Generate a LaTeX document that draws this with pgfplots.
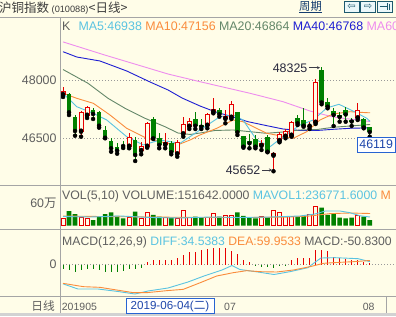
\documentclass[border=0pt]{standalone}
\usepackage{pgfplots}
\pgfplotsset{compat=1.18}
\usepackage{pgfplotstable}
\usetikzlibrary{arrows.meta}
\usepackage{fontspec}
\setmainfont{Liberation Sans}
\newfontfamily\cjk{Noto Sans CJK SC}
\newfontfamily\dvs{DejaVu Sans}
\definecolor{bg}{RGB}{255,253,232}
\definecolor{kred}{RGB}{230,0,0}
\definecolor{kgreen}{RGB}{0,128,0}
\definecolor{cma5}{RGB}{90,195,225}
\definecolor{cma10}{RGB}{250,140,60}
\definecolor{cma20}{RGB}{100,135,105}
\definecolor{cma40}{RGB}{30,30,210}
\definecolor{cma60}{RGB}{238,140,238}
\definecolor{framec}{RGB}{165,165,165}
\definecolor{txt}{RGB}{95,95,95}
\definecolor{dblue}{RGB}{30,70,170}
\definecolor{iconc}{RGB}{30,90,110}
\definecolor{iconfill}{RGB}{235,248,250}
\definecolor{ttl}{RGB}{60,60,60}
\definecolor{period}{RGB}{20,60,110}
\definecolor{annot}{RGB}{40,40,60}
\definecolor{arrowc}{RGB}{60,60,70}
\definecolor{boxblue}{RGB}{40,100,210}
\newcommand{\lfont}{\fontsize{12.4}{12.4}\selectfont}

\pgfplotstableread{
i o h l c v
1 47614 47820 47563 47717 20.2
4 46670 47202 46541 47169 21.8
5 47081 47339 47022 47298 20.2
12 46284 46629 46243 46541 21.8
14 46173 46412 46088 46310 20.2
15 46284 46927 46258 46886 36.5
18 46328 46629 46243 46412 21.8
20 46088 46456 46026 46397 20.2
21 46603 47056 46541 46860 40.9
22 46798 47015 46739 46945 21.8
25 46824 47143 46757 47117 21.8
26 47169 47545 47143 47246 33.8
28 46997 47228 46886 47074 26.5
29 47030 47460 46997 47375 26.5
34 46302 46456 46199 46371 24.5
36 46052 46147 45652 46114 42.8
37 46430 46654 46397 46603 36.5
38 46541 46739 46500 46688 24.5
39 46567 46945 46541 46912 24.5
42 46798 46927 46739 46824 29.2
43 46901 48018 46868 47956 53.7
50 47015 47400 46971 47228 26.5
}\upK

\pgfplotstableread{
i o h l c v
2 47632 47673 47099 47169 40.1
3 47056 47099 46567 46688 31.9
6 47228 47287 46997 47125 15.5
7 47184 47202 46773 46824 24.5
8 46714 46816 46500 46515 31.9
9 46430 46500 46155 46243 36.5
10 46284 46387 46104 46181 26.5
11 46340 46430 46250 46302 20.2
13 46456 46541 45916 46070 38.2
16 46997 47056 46482 46500 29.2
17 46500 46629 46243 46328 24.5
19 46371 46430 46088 46140 21.8
23 46997 47169 46739 46824 24.5
24 46842 46997 46739 46798 21.8
27 47228 47287 47056 47117 24.5
30 47169 47184 46585 46654 36.5
31 46559 46559 46258 46284 26.5
32 46430 46603 46243 46371 21.8
33 46482 46585 46243 46284 20.2
35 46541 46585 46140 46155 22.9
40 47015 47099 46842 46886 24.5
41 46971 47272 46798 46824 26.5
44 48257 48325 47375 47421 49.1
45 47442 47529 47272 47313 29.2
46 47210 47272 46816 47099 33.8
47 47099 47169 46927 47048 21.8
48 47228 47298 46927 47112 20.2
49 46971 47015 46816 46932 21.8
51 46997 47030 46757 46778 24.5
52 46778 46783 46541 46662 15.2
}\downK

\begin{document}
\begin{tikzpicture}[x=1pt,y=1pt]
\useasboundingbox (0,0) rectangle (396,-316);
\fill[bg] (0,0) rectangle (396,-316);

% ---------------- price panel
\begin{axis}[
  at={(60pt,-185pt)}, anchor=south west,
  scale only axis, width=336pt, height=168pt,
  xmin=0.5, xmax=56.37, ymin=45298, ymax=49621,
  axis line style={draw=none},
  xtick=\empty, ytick={46500,48000},
  scaled y ticks=false,
  major tick length=0pt,
  ymajorgrids, grid style={dash pattern=on 1pt off 2pt, draw=gray!80, line width=0.6pt},
  yticklabel style={font=\lfont, text=txt, anchor=east},
  /pgf/number format/.cd, 1000 sep={}, assume math mode=true,
]
% MA lines
\addplot[cma60, line width=0.9pt] coordinates {(1,48980) (7.93,48643) (18.46,48154) (23.78,47956) (32.10,47658) (37.58,47442) (42.07,47202) (45.90,47048) (49.89,46971) (52.05,46932)};
\addplot[cma40, line width=0.9pt] coordinates {(1,48728) (3.28,48592) (7.15,48489) (11.59,48232) (15.47,47949) (18.46,47743) (20.79,47537) (23.78,47331) (26.27,47184) (29.10,47056) (31.76,46927) (34.75,46829) (37.58,46739) (40.41,46701) (43.24,46701) (45.90,46731) (48.72,46757) (52.05,46770)};
\addplot[cma20, line width=0.9pt] coordinates {(1,48270) (5.16,47915) (8.48,47529) (11.31,47272) (14.63,47015) (17.96,46798) (20.12,46636) (22.12,46598) (23.78,46636) (26.27,46701) (29.27,46714) (32.10,46670) (34.75,46629) (37.58,46662) (40.41,46714) (43.24,46726) (45.90,46783) (48.72,46816) (52.05,46855)};
\addplot[cma10, line width=0.9pt] coordinates {(1,47658) (3.28,47529) (6.04,47400) (8.82,47099) (11.59,46757) (14.92,46500) (18.24,46371) (20.45,46353) (22.12,46456) (23.78,46585) (26.56,46757) (29.27,46971) (30.93,46927) (34.87,46629) (39.29,46500) (41.52,46670) (43.73,46971) (45.90,47125) (48.72,47184) (51.50,47159) (52.05,47156)};
\addplot[cma5, line width=0.9pt] coordinates {(1,47658) (3.28,47313) (6.04,47143) (8.27,46971) (11.59,46541) (14.35,46328) (17.13,46456) (20.45,46371) (23.78,46714) (27.11,47056) (29.27,47099) (30.93,46971) (33.21,46456) (35.42,46284) (37.63,46541) (40.41,46842) (42.62,46971) (44.85,47280) (46.89,47375) (49.55,47177) (51.50,47015) (52.05,46937)};
% green candles
\addplot[only marks, mark=none, forget plot, error bars/.cd, y dir=plus, y explicit, error mark=none,
  error bar style={draw=kgreen, line width=1pt}]
  table[x=i, y=l, y error expr={\thisrow{h}-\thisrow{l}}] {\downK};
\addplot[only marks, mark=none, forget plot, error bars/.cd, y dir=plus, y explicit, error mark=none,
  error bar style={draw=kgreen, line width=4.6pt}]
  table[x=i, y=c, y error expr={\thisrow{o}-\thisrow{c}}] {\downK};
% red candles
\addplot[only marks, mark=none, forget plot, error bars/.cd, y dir=plus, y explicit, error mark=none,
  error bar style={draw=kred, line width=1pt}]
  table[x=i, y=l, y error expr={\thisrow{h}-\thisrow{l}}] {\upK};
\addplot[only marks, mark=none, forget plot, error bars/.cd, y dir=plus, y explicit, error mark=none,
  error bar style={draw=kred, line width=5pt}]
  table[x=i, y=o, y error expr={max(\thisrow{c}-\thisrow{o},26)}] {\upK};
\addplot[only marks, mark=none, forget plot, error bars/.cd, y dir=plus, y explicit, error mark=none,
  error bar style={draw=bg, line width=3pt}]
  table[x=i, y expr={\thisrow{o}+26}, y error expr={max(\thisrow{c}-\thisrow{o}-52,0)}] {\upK};
\end{axis}

% ---------------- volume panel
\begin{axis}[
  at={(60pt,-229.5pt)}, anchor=south west,
  scale only axis, width=336pt, height=44.5pt,
  xmin=0.5, xmax=56.37, ymin=-10.36, ymax=111,
  axis line style={draw=none},
  xtick=\empty, ytick={60}, yticklabels={{60\cjk 万}},
  major tick length=0pt,
  yticklabel style={font=\lfont, text=txt, anchor=east},
]
\addplot[ybar, bar width=4.6pt, bar shift=0pt, fill=kgreen, draw=none] table[x=i, y=v] {\downK};
\addplot[ybar, bar width=4pt, bar shift=0pt, fill=bg, draw=kred, line width=1pt] table[x=i, y=v] {\upK};
\addplot[cma10, line width=0.9pt] coordinates {(1,26.5) (7.15,25.1) (15.47,23.7) (23.78,22.4) (32.10,22.4) (38.74,23.7) (42.07,26.5) (45.4,33) (48.7,34.6) (52.05,33.3)};
\addplot[cma5, line width=0.9pt] coordinates {(1,25.1) (5.49,23.7) (10.48,26.5) (15.47,22.4) (20.46,21.0) (25.44,23.7) (30.43,22.4) (35.42,23.7) (40.41,26.5) (42.9,31.9) (44.6,40) (47.1,40) (48.7,35.5) (50.4,27) (52.05,23.7)};
\end{axis}

% ---------------- MACD panel
\begin{axis}[
  at={(60pt,-296.7pt)}, anchor=south west,
  scale only axis, width=336pt, height=67.2pt,
  xmin=0.5, xmax=56.37, ymin=-386.4, ymax=420,
  axis line style={draw=none},
  xtick=\empty, ytick={0},
  scaled y ticks=false,
  major tick length=0pt,
  ymajorgrids, grid style={dash pattern=on 1pt off 2pt, draw=gray!80, line width=0.6pt},
  yticklabel style={font=\lfont, text=txt, anchor=east},
  /pgf/number format/.cd, assume math mode=true,
]
\addplot[ycomb, kgreen, line width=1pt] coordinates {(1,-54) (2,-66) (3,-94) (4,-66) (5,-54) (6,-54) (7,-66) (8,-86) (9,-94) (10,-94) (11,-78) (12,-54) (13,-54) (14,-38) (33,-14) (34,-26) (35,-26) (36,-46) (37,-22) (38,-12)};
\addplot[ycomb, kred, line width=1pt] coordinates {(15,34) (16,58) (17,58) (18,58) (19,58) (20,74) (21,114) (22,154) (23,154) (24,174) (25,186) (26,202) (27,194) (28,194) (29,162) (30,122) (31,54) (32,34) (39,58) (40,82) (41,82) (42,82) (43,174) (44,174) (45,162) (46,94) (47,82) (48,66) (49,54) (50,54) (51,34) (52,18)};
\addplot[cma5, line width=0.9pt] coordinates {(1,-232) (3.49,-294) (6.82,-294) (10.15,-324) (12.97,-354) (15.13,-318) (18.46,-282) (21.78,-210) (24.44,-138) (27.44,-66) (29.10,-12) (30.43,-60) (33.42,-90) (36.08,-120) (38.74,-86) (41.73,-38) (42.73,18) (43.89,78) (46.22,82) (50.04,70) (52.04,34)};
\addplot[cma10, line width=0.9pt] coordinates {(1,-226) (4.38,-266) (7.15,-274) (9.93,-306) (12.69,-338) (14.92,-338) (18.24,-314) (21.00,-298) (23.83,-218) (26.56,-138) (29.32,-98) (31.55,-74) (33.76,-86) (36.53,-90) (39.29,-66) (42.07,-26) (44.28,14) (45.95,22) (49.27,34) (52.04,48)};
\end{axis}

% ---------------- frame lines
\draw[framec, line width=0.8pt] (0,-17.3) -- (396,-17.3);
\draw[framec, line width=0.8pt] (0,-185) -- (396,-185);
\draw[framec, line width=0.8pt] (0,-229.5) -- (396,-229.5);
\draw[framec, line width=0.8pt] (0,-296.7) -- (396,-296.7);
\draw[framec, line width=0.8pt] (60,-17.3) -- (60,-313);
\draw[framec, line width=0.8pt] (386.7,-296.7) -- (386.7,-313);
\fill[gray!35] (0,-313.3) rectangle (396,-316);

% ---------------- title bar
\node[anchor=base west, inner sep=0, text=ttl] at (-1,-12.5)
  {\cjk\fontsize{12.5}{12.5}\selectfont 沪铜指数};
\node[anchor=base west, inner sep=0, text=ttl] at (51.5,-12.5)
  {\fontsize{9.2}{9.2}\selectfont (010088)};
\node[anchor=base west, inner sep=0, text=ttl] at (88.5,-12.5)
  {\cjk\fontsize{12.5}{12.5}\selectfont <日线>};
\node[anchor=base west, inner sep=0, text=period] at (299,-10.5)
  {\cjk\fontsize{11.3}{11.3}\selectfont 周期};
\draw[period, line width=0.7pt] (299,-12) -- (322,-12);
\foreach \a/\b in {344/359,360.5/375.5,377/392.5}{
  \draw[iconc, fill=iconfill, line width=0.8pt] (\a,-1) rectangle (\b,-12);
}
\node[inner sep=0, text=iconc] at (351.5,-6.5) {\dvs\fontsize{10}{10}\selectfont ⇦};
\node[inner sep=0, text=iconc] at (368,-6.5) {\dvs\fontsize{10}{10}\selectfont ⇨};
\draw[iconc, line width=0.9pt] (379.5,-6.5) -- (387,-6.5) (387,-3) -- (387,-10) (389.5,-3.5) -- (389.5,-9.5);

% ---------------- legends
\node[anchor=base west, inner sep=0, text=txt] at (62,-30) {\lfont K};
\node[anchor=base west, inner sep=0] at (78.3,-30) {\lfont \textcolor{cma5}{MA5:46938} \textcolor{cma10}{MA10:47156} \textcolor{cma20}{MA20:46864} \textcolor{cma40}{MA40:46768} \textcolor{cma60}{MA60}};

\node[anchor=base west, inner sep=0] at (62,-199) {\fontsize{12.3}{12.3}\selectfont \textcolor{txt}{VOL(5,10) VOLUME:151642.0000} \textcolor{cma5}{MAVOL1:236771.6000} \textcolor{cma10}{M}};

\node[anchor=base west, inner sep=0] at (62,-245) {\fontsize{12.2}{12.2}\selectfont \textcolor{txt}{MACD(12,26,9)} \textcolor{cma5}{DIFF:34.5383} \textcolor{cma10}{DEA:59.9533} \textcolor{txt}{MACD:-50.8300}};

% ---------------- annotations
\node[anchor=base east, inner sep=0, text=annot] at (307.5,-72.5) {\lfont 48325};
\draw[arrowc, line width=0.6pt, -{Stealth[length=3pt,width=3pt]}] (309,-67.7) -- (320,-67.7);
\node[anchor=base east, inner sep=0, text=annot] at (260.5,-174.5) {\lfont 45652};
\draw[arrowc, line width=0.6pt, -{Stealth[length=3pt,width=3pt]}] (262,-170) -- (272,-170);
\draw[boxblue, fill=white, line width=0.8pt] (357,-137) rectangle (395.5,-152);
\node[inner sep=0, text=dblue] at (376.2,-144.5) {\lfont 46119};

% ---------------- bottom date row
\node[anchor=base east, inner sep=0, text=txt] at (55,-310.5) {\cjk\fontsize{11.7}{11.7}\selectfont 日线};
\node[anchor=base west, inner sep=0, text=txt] at (61.7,-310) {\fontsize{10.5}{10.5}\selectfont 201905};
\node[anchor=base west, inner sep=0, text=txt] at (224,-310) {\fontsize{10.5}{10.5}\selectfont 07};
\node[anchor=base west, inner sep=0, text=txt] at (362.7,-310) {\fontsize{10.5}{10.5}\selectfont 08};
\draw[boxblue, fill=white, line width=0.8pt] (126,-298.5) rectangle (214,-313.5);
\node[inner sep=0, text=dblue] at (170,-306) {\fontsize{11.6}{11.6}\selectfont 2019-06-04({\cjk 二})};
\end{tikzpicture}
\end{document}
